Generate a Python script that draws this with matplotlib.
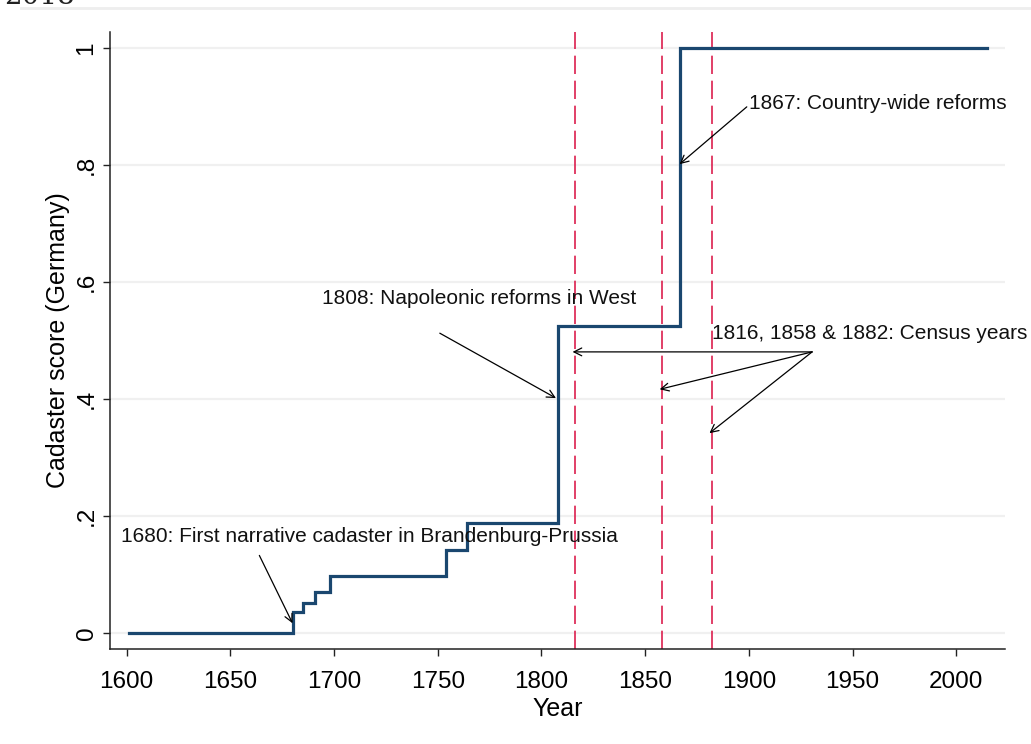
import numpy as np
import matplotlib.pyplot as plt

plt.rcParams['font.family'] = ['Liberation Sans', 'DejaVu Sans']

# cadaster score, step changes (year, new value)
years = [1601, 1680, 1685, 1691, 1698, 1754, 1764, 1808, 1867, 2015]
score = [0.0, 0.036, 0.052, 0.070, 0.098, 0.143, 0.188, 0.525, 1.0, 1.0]

census_years = [1816, 1858, 1882]

x_ticks = [1600, 1650, 1700, 1750, 1800, 1850, 1900, 1950, 2000]
y_ticks = [0, 0.2, 0.4, 0.6, 0.8, 1.0]
y_ticklabels = ['0', '.2', '.4', '.6', '.8', '1']

navy = '#1a476f'
red = '#dc1f4e'

fig = plt.figure(figsize=(10.31, 7.44), dpi=100)
ax = fig.add_axes([0.1067, 0.1277, 0.8681, 0.8293])

for yt in y_ticks:
    ax.axhline(yt, color='#f0f0f0', lw=1.6, zorder=0)

ax.plot(years, score, drawstyle='steps-post', color=navy, lw=2.3,
        solid_joinstyle='miter', zorder=3)

for cy in census_years:
    ax.axvline(cy, color=red, lw=1.2, dashes=(11, 4), zorder=2)

arrow = dict(arrowstyle='->', color='black', lw=0.9, shrinkA=0, shrinkB=0,
             mutation_scale=14)
txt = dict(fontsize=15, color='#111111', va='center', ha='left')

ax.annotate('', xy=(1680, 0.017), xytext=(1664, 0.133), arrowprops=arrow)
ax.text(1597.5, 0.166, '1680: First narrative cadaster in Brandenburg-Prussia', **txt)

ax.annotate('', xy=(1807, 0.402), xytext=(1751, 0.513), arrowprops=arrow)
ax.text(1694, 0.572, '1808: Napoleonic reforms in West', **txt)

for cy, ty in zip(census_years, [0.481, 0.417, 0.342]):
    ax.annotate('', xy=(cy - 1, ty), xytext=(1930.5, 0.481), arrowprops=arrow)
ax.text(1882, 0.513, '1816, 1858 & 1882: Census years', **txt)

ax.annotate('', xy=(1866.6, 0.802), xytext=(1899, 0.9), arrowprops=arrow)
ax.text(1900.3, 0.905, '1867: Country-wide reforms', **txt)

ax.set_xlim(1592, 2023.5)
ax.set_ylim(-0.027, 1.028)
ax.set_xticks(x_ticks)
ax.set_yticks(y_ticks)
ax.set_yticklabels(y_ticklabels, rotation=90, va='center')
ax.tick_params(axis='both', direction='out', length=5, width=1,
               labelsize=17.5, color='#222222')
ax.tick_params(axis='x', pad=11)
ax.tick_params(axis='y', pad=4)

for side in ['top', 'right']:
    ax.spines[side].set_visible(False)
for side in ['left', 'bottom']:
    ax.spines[side].set_linewidth(1.1)
    ax.spines[side].set_color('#222222')

ax.set_xlabel('Year', fontsize=18, labelpad=3)
ax.set_ylabel('Cadaster score (Germany)', fontsize=18, labelpad=4)

# cut-off page header above the figure
fig.text(0.004, 1 - 4 / 744, '2018', family='DejaVu Serif', fontsize=20,
         va='baseline', ha='left', color='#222222')
fig.add_artist(plt.Line2D([0.02, 1.0], [1 - 8 / 744] * 2, color='#eeeeee', lw=2))

fig.savefig('out.png', dpi=100, facecolor='white')
